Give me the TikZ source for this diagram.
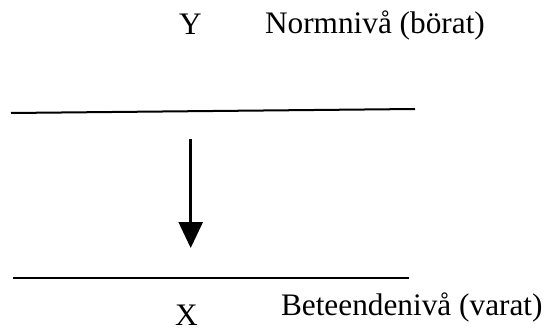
\documentclass[tikz,border=0pt]{standalone}
\usepackage{fontspec}
\setmainfont{Liberation Serif}
\usetikzlibrary{arrows.meta, positioning}
\tikzset{
  every picture/.style={line width=2pt},
  lbl/.style={font=\fontsize{31.3}{36}\selectfont, inner sep=0pt},
  level/.style={draw=black, line width=2pt},
  arrow/.style={-{Triangle[length=26pt, width=24pt]}, draw=black, line width=2.7pt},
}
\begin{document}
\begin{tikzpicture}[x=1pt, y=-1pt]
  \useasboundingbox (0,0) rectangle (544,329);
  % upper level
  \node[lbl, anchor=base] (y) at (190.5,35) {Y};
  \node[lbl, anchor=base west] (norm) at (264,34) {Normnivå (börat)};
  \coordinate (n1) at (11,113);
  \coordinate (n2) at (415,109);
  \draw[level] (n1) -- (n2);
  % lower level
  \coordinate (b1) at (13,278);
  \coordinate (b2) at (409,278);
  \draw[level] (b1) -- (b2);
  \node[lbl, anchor=base] (x) at (186.5,325) {X};
  \node[lbl, anchor=base west] (beh) at (280,315) {Beteendenivå (varat)};
  % arrow between
  \coordinate (a1) at (190.7,139);
  \coordinate (a2) at (190.7,248);
  \draw[arrow] (a1) -- (a2);
\end{tikzpicture}
\end{document}
